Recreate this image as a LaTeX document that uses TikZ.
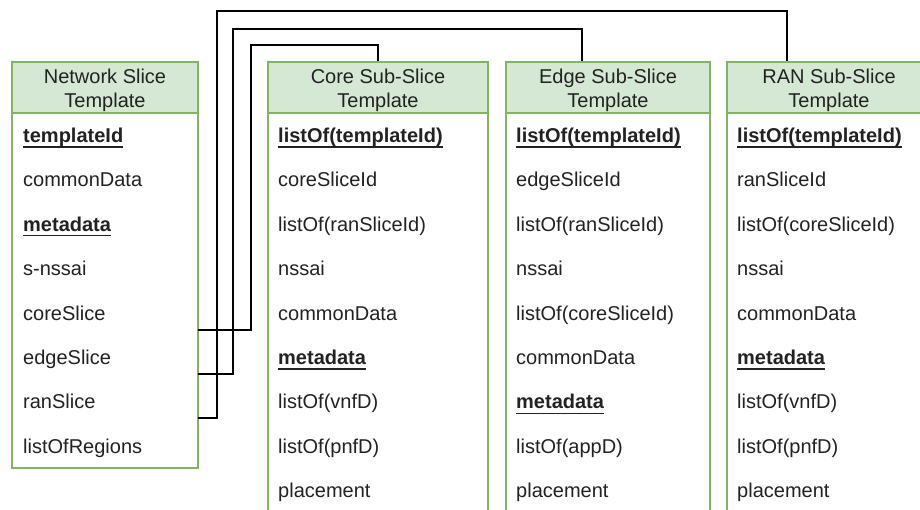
\documentclass[tikz,border=0pt]{standalone}
\usepackage{fontspec}
\setmainfont{Liberation Sans}
\definecolor{hdrfill}{HTML}{D5E8D4}
\definecolor{hdrline}{HTML}{82B366}
\definecolor{txtc}{HTML}{222222}
\newcommand\ulbf[1]{\setbox0\hbox{\bfseries #1}\rlap{\rule[-5.2pt]{\wd0}{1.3pt}}\box0}
\begin{document}
\begin{tikzpicture}[x=1pt,y=-1pt,
  hdr/.style={draw=hdrline, fill=hdrfill, line width=1.6pt, inner sep=0pt, minimum height=51pt},
  hdrtext/.style={align=center, inner sep=0pt, text=txtc, font=\fontsize{20}{24}\selectfont},
  row/.style={anchor=base west, inner sep=0pt, text=txtc, font=\fontsize{20}{24}\selectfont},
  border/.style={draw=hdrline, line width=1.6pt},
  conn/.style={draw=black, line width=1.5pt}]
\useasboundingbox (0,0) rectangle (920,509);
\clip (0,0) rectangle (920,509);

% bodies
\draw[border, fill=white] (12,113) rectangle (198,468);
\draw[border] (268,113) -- (268,520) (488,113) -- (488,520);
\draw[border] (506,113) -- (506,520) (710,113) -- (710,520);
\draw[border] (727,113) -- (727,520) (931,113) -- (931,520);

% connectors
\coordinate (nsCore) at (198,330);
\coordinate (nsEdge) at (198,374);
\coordinate (nsRan) at (198,418);
\coordinate (coreBend) at (251,45);
\coordinate (edgeBend) at (233,29);
\coordinate (ranBend) at (217,11);
\coordinate (coreIn) at (378,62);
\coordinate (edgeIn) at (582,62);
\coordinate (ranIn) at (787,62);
\draw[conn] (nsCore) -| (coreBend) -| (coreIn);
\draw[conn] (nsEdge) -| (edgeBend) -| (edgeIn);
\draw[conn] (nsRan) -| (ranBend) -| (ranIn);

% headers
\node[hdr, minimum width=186pt] (nst) at (105,87.5) {};
\node[hdr, minimum width=220pt] (core) at (378,87.5) {};
\node[hdr, minimum width=204pt] (edge) at (608,87.5) {};
\node[hdr, minimum width=204pt] (ran) at (829,87.5) {};
\node[hdrtext] (nstT) at (105,90) {Network Slice\\Template};
\node[hdrtext] (coreT) at (378,90) {Core Sub-Slice\\Template};
\node[hdrtext] (edgeT) at (608,90) {Edge Sub-Slice\\Template};
\node[hdrtext] (ranT) at (829,90) {RAN Sub-Slice\\Template};

% rows
\foreach \t [count=\i] in {\ulbf{templateId}, commonData, \ulbf{metadata}, s-nssai, coreSlice, edgeSlice, ranSlice, listOfRegions}
  \node[row] (n\i) at (23,{142.4+44.4*(\i-1)}) {\t};
\foreach \t [count=\i] in {\ulbf{listOf(templateId)}, coreSliceId, listOf(ranSliceId), nssai, commonData, \ulbf{metadata}, listOf(vnfD), listOf(pnfD), placement}
  \node[row] (c\i) at (278,{142.4+44.4*(\i-1)}) {\t};
\foreach \t [count=\i] in {\ulbf{listOf(templateId)}, edgeSliceId, listOf(ranSliceId), nssai, listOf(coreSliceId), commonData, \ulbf{metadata}, listOf(appD), placement}
  \node[row] (e\i) at (516,{142.4+44.4*(\i-1)}) {\t};
\foreach \t [count=\i] in {\ulbf{listOf(templateId)}, ranSliceId, listOf(coreSliceId), nssai, commonData, \ulbf{metadata}, listOf(vnfD), listOf(pnfD), placement}
  \node[row] (r\i) at (737,{142.4+44.4*(\i-1)}) {\t};
\end{tikzpicture}
\end{document}
